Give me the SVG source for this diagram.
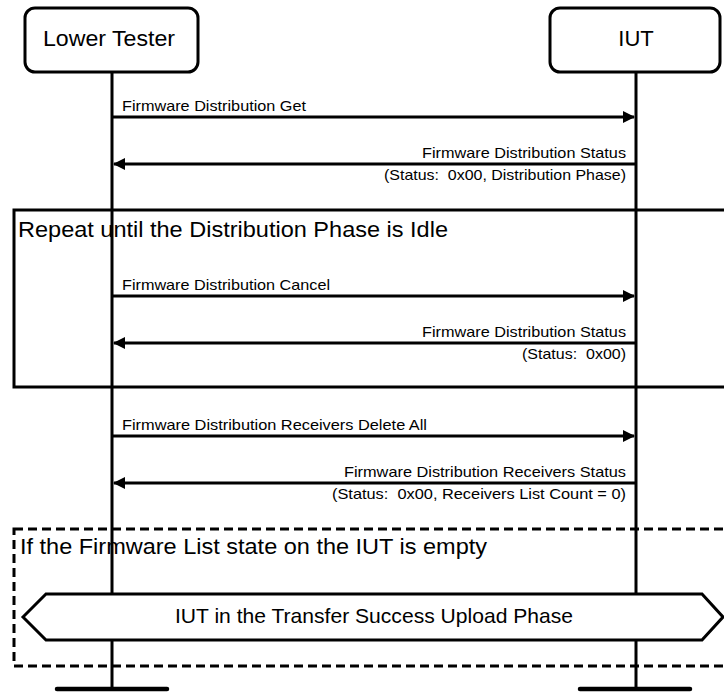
<svg xmlns="http://www.w3.org/2000/svg" width="724" height="694" viewBox="0 0 724 694">
<defs>
<style>
.box{fill:#fff;stroke:#000;stroke-width:3}
.life{stroke:#000;stroke-width:3;fill:none}
.foot{stroke:#000;stroke-width:4.5;stroke-linecap:round}
.msg{stroke:#000;stroke-width:3;fill:none}
.t{font-family:"Liberation Sans",Arial,sans-serif;fill:#000}
.title{font-size:22px}
.ml{font-size:14.5px}
.big{font-size:22px}
.hex{font-size:21px}
.frame{fill:none;stroke:#000;stroke-width:3}
.dash{stroke-dasharray:9 5}
</style>
<marker id="ah" viewBox="0 0 12 12" refX="11" refY="6" markerWidth="12" markerHeight="12" markerUnits="userSpaceOnUse" orient="auto">
<path d="M0,0 L12,6 L0,12 Z" fill="#000"/>
</marker>
</defs>
<rect width="724" height="694" fill="#fff"/>
<g id="lifelines">
<line class="life" x1="112" y1="72" x2="112" y2="689"/>
<line class="life" x1="636" y1="72" x2="636" y2="689"/>
<line class="foot" x1="57" y1="689" x2="167" y2="689"/>
<line class="foot" x1="580" y1="689" x2="690" y2="689"/>
</g>
<g id="node-lower-tester">
<rect class="box" x="25" y="8" width="173" height="64" rx="10"/>
<text class="t title" x="109" y="46" text-anchor="middle" textLength="132" lengthAdjust="spacingAndGlyphs">Lower Tester</text>
</g>
<g id="node-iut">
<rect class="box" x="550" y="8" width="170" height="64" rx="10"/>
<text class="t title" x="636" y="46" text-anchor="middle">IUT</text>
</g>
<g id="frame-repeat">
<rect class="frame" x="14" y="210" width="720" height="177"/>
<text class="t big" x="18" y="237" textLength="430" lengthAdjust="spacingAndGlyphs">Repeat until the Distribution Phase is Idle</text>
</g>
<g id="frame-if">
<rect class="frame dash" x="14" y="529" width="720" height="137"/>
<text class="t big" x="20" y="554" textLength="467" lengthAdjust="spacingAndGlyphs">If the Firmware List state on the IUT is empty</text>
</g>
<g id="node-state">
<polygon class="box" points="23,617 46,594 702,594 723,617 702,640 46,640"/>
<text class="t hex" x="374" y="623" text-anchor="middle" textLength="398" lengthAdjust="spacingAndGlyphs">IUT in the Transfer Success Upload Phase</text>
</g>
<g id="connectors">
<line class="msg" x1="112" y1="117" x2="634" y2="117" marker-end="url(#ah)"/>
<text class="t ml" x="122" y="111" textLength="184" lengthAdjust="spacingAndGlyphs">Firmware Distribution Get</text>
<line class="msg" x1="636" y1="164" x2="114" y2="164" marker-end="url(#ah)"/>
<text class="t ml" x="626" y="158" text-anchor="end" textLength="204" lengthAdjust="spacingAndGlyphs">Firmware Distribution Status</text>
<text class="t ml" x="626" y="180" text-anchor="end" textLength="242" lengthAdjust="spacingAndGlyphs">(Status:&#160; 0x00, Distribution Phase)</text>
<line class="msg" x1="112" y1="296" x2="634" y2="296" marker-end="url(#ah)"/>
<text class="t ml" x="122" y="290" textLength="208" lengthAdjust="spacingAndGlyphs">Firmware Distribution Cancel</text>
<line class="msg" x1="636" y1="343" x2="114" y2="343" marker-end="url(#ah)"/>
<text class="t ml" x="626" y="337" text-anchor="end" textLength="204" lengthAdjust="spacingAndGlyphs">Firmware Distribution Status</text>
<text class="t ml" x="626" y="359" text-anchor="end" textLength="104" lengthAdjust="spacingAndGlyphs">(Status:&#160; 0x00)</text>
<line class="msg" x1="112" y1="436" x2="634" y2="436" marker-end="url(#ah)"/>
<text class="t ml" x="122" y="430" textLength="305" lengthAdjust="spacingAndGlyphs">Firmware Distribution Receivers Delete All</text>
<line class="msg" x1="636" y1="483" x2="114" y2="483" marker-end="url(#ah)"/>
<text class="t ml" x="626" y="477" text-anchor="end" textLength="282" lengthAdjust="spacingAndGlyphs">Firmware Distribution Receivers Status</text>
<text class="t ml" x="626" y="499" text-anchor="end" textLength="294" lengthAdjust="spacingAndGlyphs">(Status:&#160; 0x00, Receivers List Count = 0)</text>
</g>
</svg>
